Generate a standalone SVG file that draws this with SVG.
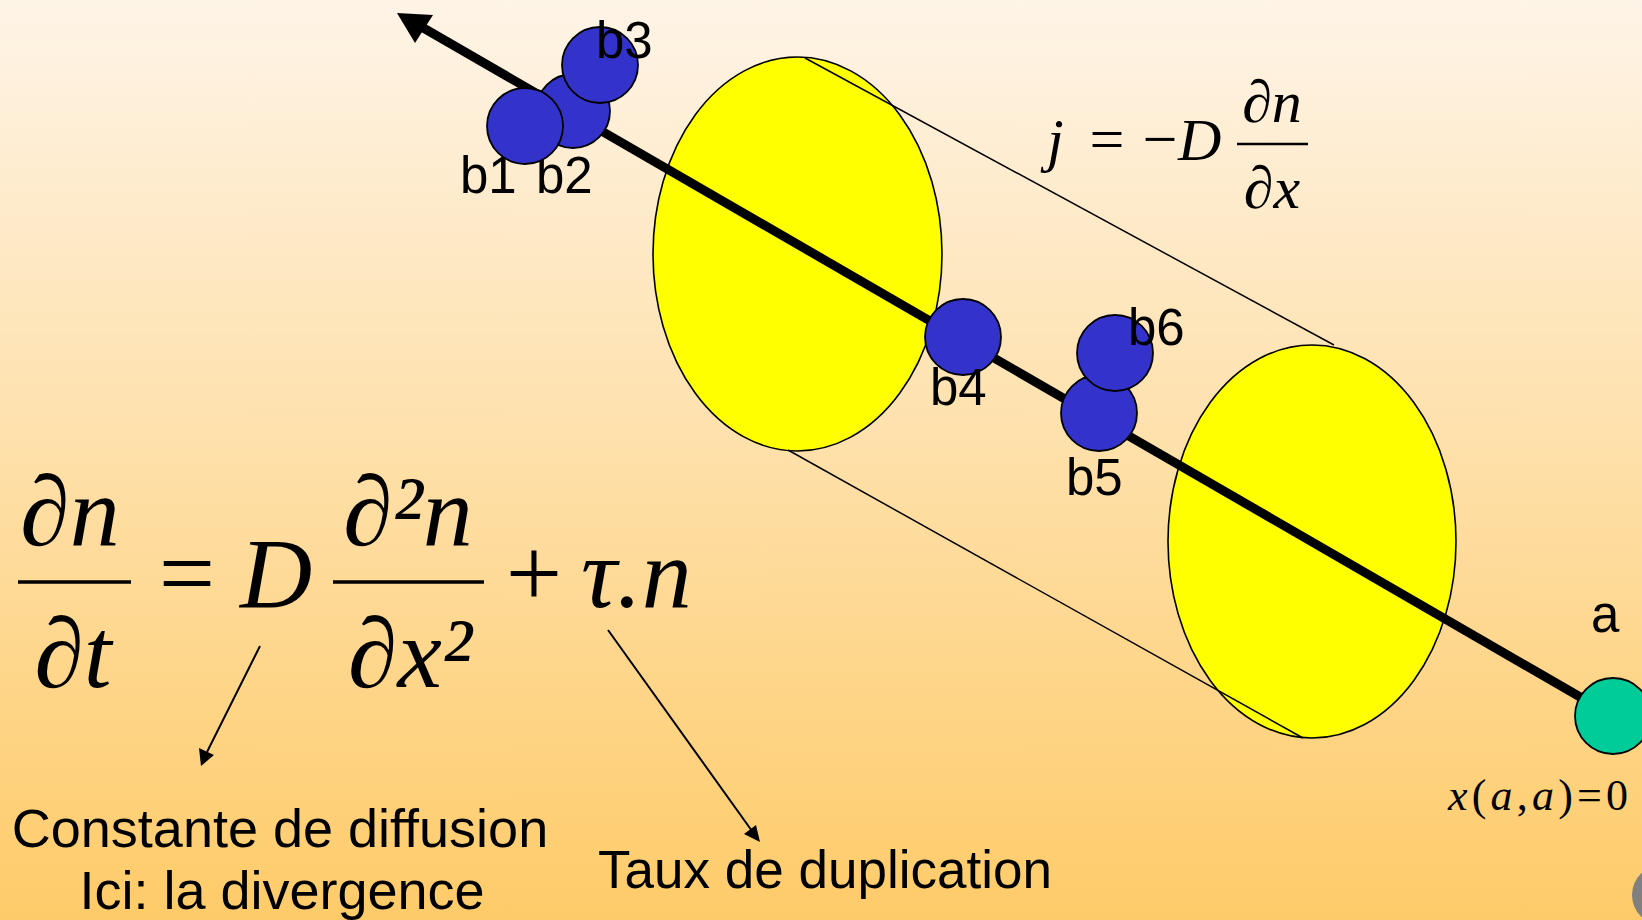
<svg xmlns="http://www.w3.org/2000/svg" width="1642" height="920" viewBox="0 0 1642 920">
<defs>
<linearGradient id="bg" x1="0" y1="0" x2="0" y2="1">
<stop offset="0" stop-color="#FEF4E7"/>
<stop offset="1" stop-color="#FECB69"/>
</linearGradient>
<style>
.disk{fill:#FFFF00;stroke:#000;stroke-width:1.6}
.ball{fill:#3333CC;stroke:#000;stroke-width:1.8}
.lbl{font-family:"Liberation Sans",Arial,sans-serif;font-size:51px;fill:#000}
.txt{font-family:"Liberation Sans",Arial,sans-serif;font-size:54px;fill:#000}
.m{font-family:"Liberation Serif","Times New Roman",serif;fill:#000}
.i{font-style:italic}
.thin{stroke:#000;stroke-width:1.5;fill:none}
.ptr{stroke:#000;stroke-width:2;fill:none}
</style>
</defs>
<rect x="0" y="0" width="1642" height="920" fill="url(#bg)"/>

<g id="disk1"><ellipse class="disk" cx="797.5" cy="254" rx="144.5" ry="197"/></g>
<g id="disk2"><ellipse class="disk" cx="1312" cy="541.5" rx="144" ry="196.5"/></g>

<g id="connectors">
<line class="thin" x1="805" y1="58" x2="1334" y2="345"/>
<line class="thin" x1="788" y1="450" x2="1303" y2="738"/>
<line x1="420" y1="26" x2="1613" y2="716" stroke="#000" stroke-width="9"/>
<polygon points="397,13 433,15 415,43" fill="#000"/>
<line class="ptr" x1="260" y1="646" x2="207" y2="752"/>
<polygon points="201,766 199,748 214,755" fill="#000"/>
<line class="ptr" x1="608" y1="630" x2="752" y2="831"/>
<polygon points="760,842 744,834 756,825" fill="#000"/>
</g>

<g id="b2"><circle class="ball" cx="573" cy="111" r="37"/><text class="lbl" x="536" y="193">b2</text></g>
<g id="b1"><circle class="ball" cx="525" cy="126" r="38"/><text class="lbl" x="460" y="193">b1</text></g>
<g id="b3"><circle class="ball" cx="600" cy="65" r="38"/><text class="lbl" x="596" y="58">b3</text></g>
<g id="b4"><circle class="ball" cx="963" cy="337" r="38"/><text class="lbl" x="930" y="405">b4</text></g>
<g id="b5"><circle class="ball" cx="1099" cy="413" r="38"/><text class="lbl" x="1066" y="495">b5</text></g>
<g id="b6"><circle class="ball" cx="1115" cy="353" r="38"/><text class="lbl" x="1128" y="345">b6</text></g>
<g id="a"><circle cx="1613" cy="716" r="38" fill="#00CC99" stroke="#000" stroke-width="1.8"/><text class="lbl" x="1591" y="632">a</text></g>
<g id="corner"><circle cx="1662" cy="895" r="30" fill="#808080"/></g>

<g id="flux">
<text class="m i" font-size="60" x="1047" y="160">j</text>
<text class="m" font-size="62" x="1107" y="160" text-anchor="middle">=</text>
<text class="m" font-size="62" x="1160" y="160" text-anchor="middle">−</text>
<text class="m i" font-size="60" x="1178" y="160">D</text>
<line x1="1237" y1="144" x2="1308" y2="144" stroke="#000" stroke-width="2.5"/>
<text class="m i" font-size="60" x="1272" y="122" text-anchor="middle">∂n</text>
<text class="m i" font-size="60" x="1272" y="208" text-anchor="middle">∂x</text>
</g>

<g id="equation">
<text class="m i" font-size="100" x="70" y="545" text-anchor="middle">∂n</text>
<line x1="18" y1="582" x2="131" y2="582" stroke="#000" stroke-width="3.5"/>
<text class="m i" font-size="100" x="73" y="687" text-anchor="middle">∂t</text>
<text class="m" font-size="100" x="187" y="607" text-anchor="middle">=</text>
<text class="m i" font-size="100" x="240" y="607">D</text>
<line x1="333" y1="582" x2="484" y2="582" stroke="#000" stroke-width="3.5"/>
<text class="m i" font-size="100" x="408" y="545" text-anchor="middle">∂²n</text>
<text class="m i" font-size="100" x="410" y="687" text-anchor="middle">∂x²</text>
<text class="m" font-size="100" x="534" y="607" text-anchor="middle">+</text>
<text class="m i" font-size="100" x="581" y="607">τ.n</text>
</g>

<g id="origin">
<text class="m" font-size="44" x="1448" y="810" textLength="180" lengthAdjust="spacing"><tspan class="i">x</tspan>(<tspan class="i">a</tspan>,<tspan class="i">a</tspan>)=0</text>
</g>

<g id="label-diffusion">
<text class="txt" x="280" y="847" text-anchor="middle">Constante de diffusion</text>
<text class="txt" x="282" y="909" text-anchor="middle">Ici: la divergence</text>
</g>
<g id="label-duplication">
<text class="txt" x="598" y="888" textLength="454" lengthAdjust="spacingAndGlyphs">Taux de duplication</text>
</g>
</svg>
